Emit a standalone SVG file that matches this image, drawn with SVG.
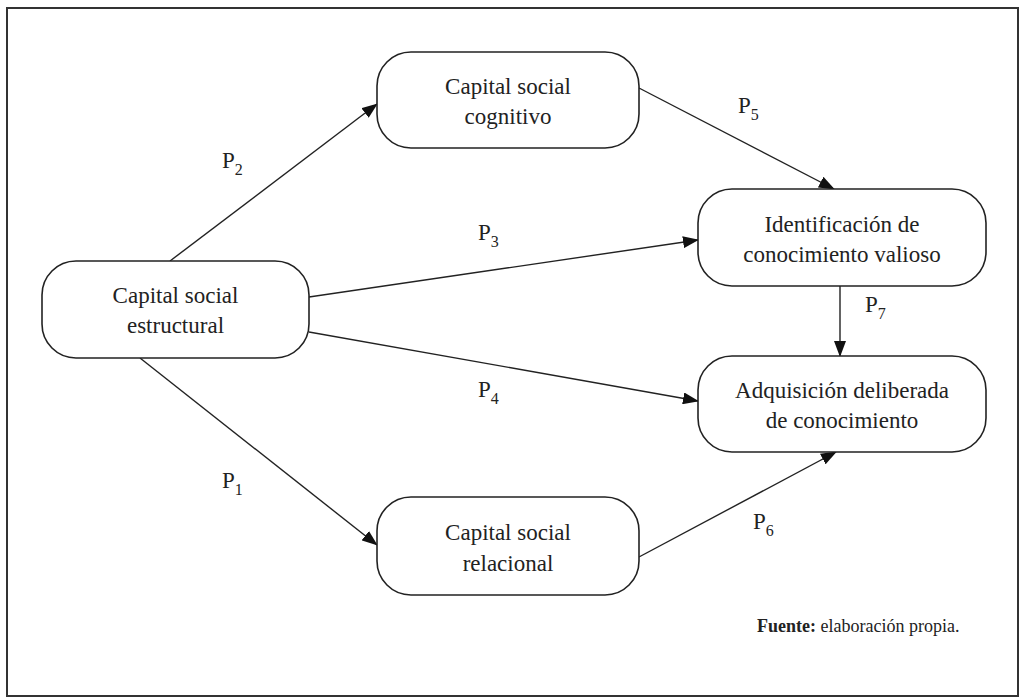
<svg xmlns="http://www.w3.org/2000/svg" width="1024" height="698" viewBox="0 0 1024 698">
<defs>
<style>
.box{fill:#fff;stroke:#222;stroke-width:1.6}
.t{font-family:"Liberation Serif","DejaVu Serif",serif;font-size:23px;fill:#222;text-anchor:middle}
.p{font-family:"Liberation Serif","DejaVu Serif",serif;font-size:23px;fill:#222}
.s{font-size:16px}
.c{stroke:#222;stroke-width:1.4;fill:none;marker-end:url(#ah)}
.f{font-family:"Liberation Serif","DejaVu Serif",serif;font-size:18px;fill:#222}
</style>
<marker id="ah" markerUnits="userSpaceOnUse" markerWidth="16" markerHeight="12" refX="15" refY="6" orient="auto">
<path d="M0,0 L16,6 L0,12 Z" fill="#111"/>
</marker>
</defs>
<rect width="1024" height="698" fill="#fff"/>
<rect x="7" y="8" width="1011" height="688" fill="none" stroke="#333" stroke-width="2"/>
<g id="connectors">
<line class="c" x1="170" y1="261" x2="377" y2="104"/>
<line class="c" x1="639" y1="88" x2="834" y2="189"/>
<line class="c" x1="309" y1="297" x2="698" y2="240"/>
<line class="c" x1="309" y1="332" x2="698" y2="401"/>
<line class="c" x1="840" y1="286" x2="840" y2="356"/>
<line class="c" x1="140" y1="358" x2="377" y2="545"/>
<line class="c" x1="639" y1="557" x2="836" y2="452"/>
</g>
<g id="labels">
<text class="p" x="222" y="168">P<tspan class="s" dy="7">2</tspan></text>
<text class="p" x="738" y="113">P<tspan class="s" dy="7">5</tspan></text>
<text class="p" x="478" y="240">P<tspan class="s" dy="7">3</tspan></text>
<text class="p" x="865" y="312">P<tspan class="s" dy="7">7</tspan></text>
<text class="p" x="478" y="397">P<tspan class="s" dy="7">4</tspan></text>
<text class="p" x="222" y="488">P<tspan class="s" dy="7">1</tspan></text>
<text class="p" x="753" y="529">P<tspan class="s" dy="7">6</tspan></text>
</g>
<g id="n-estructural">
<rect class="box" x="42" y="261" width="267" height="97" rx="34"/>
<text class="t" x="175.5" y="303">Capital social</text>
<text class="t" x="175.5" y="333">estructural</text>
</g>
<g id="n-cognitivo">
<rect class="box" x="377" y="52" width="262" height="96" rx="34"/>
<text class="t" x="508" y="94">Capital social</text>
<text class="t" x="508" y="124">cognitivo</text>
</g>
<g id="n-identificacion">
<rect class="box" x="698" y="189" width="288" height="97" rx="34"/>
<text class="t" x="842" y="232">Identificación de</text>
<text class="t" x="842" y="262">conocimiento valioso</text>
</g>
<g id="n-adquisicion">
<rect class="box" x="698" y="356" width="288" height="96" rx="34"/>
<text class="t" x="842" y="398">Adquisición deliberada</text>
<text class="t" x="842" y="428">de conocimiento</text>
</g>
<g id="n-relacional">
<rect class="box" x="377" y="497" width="262" height="98" rx="34"/>
<text class="t" x="508" y="540">Capital social</text>
<text class="t" x="508" y="571">relacional</text>
</g>
<text class="f" x="757" y="632"><tspan font-weight="bold">Fuente:</tspan>  elaboración propia.</text>
</svg>
